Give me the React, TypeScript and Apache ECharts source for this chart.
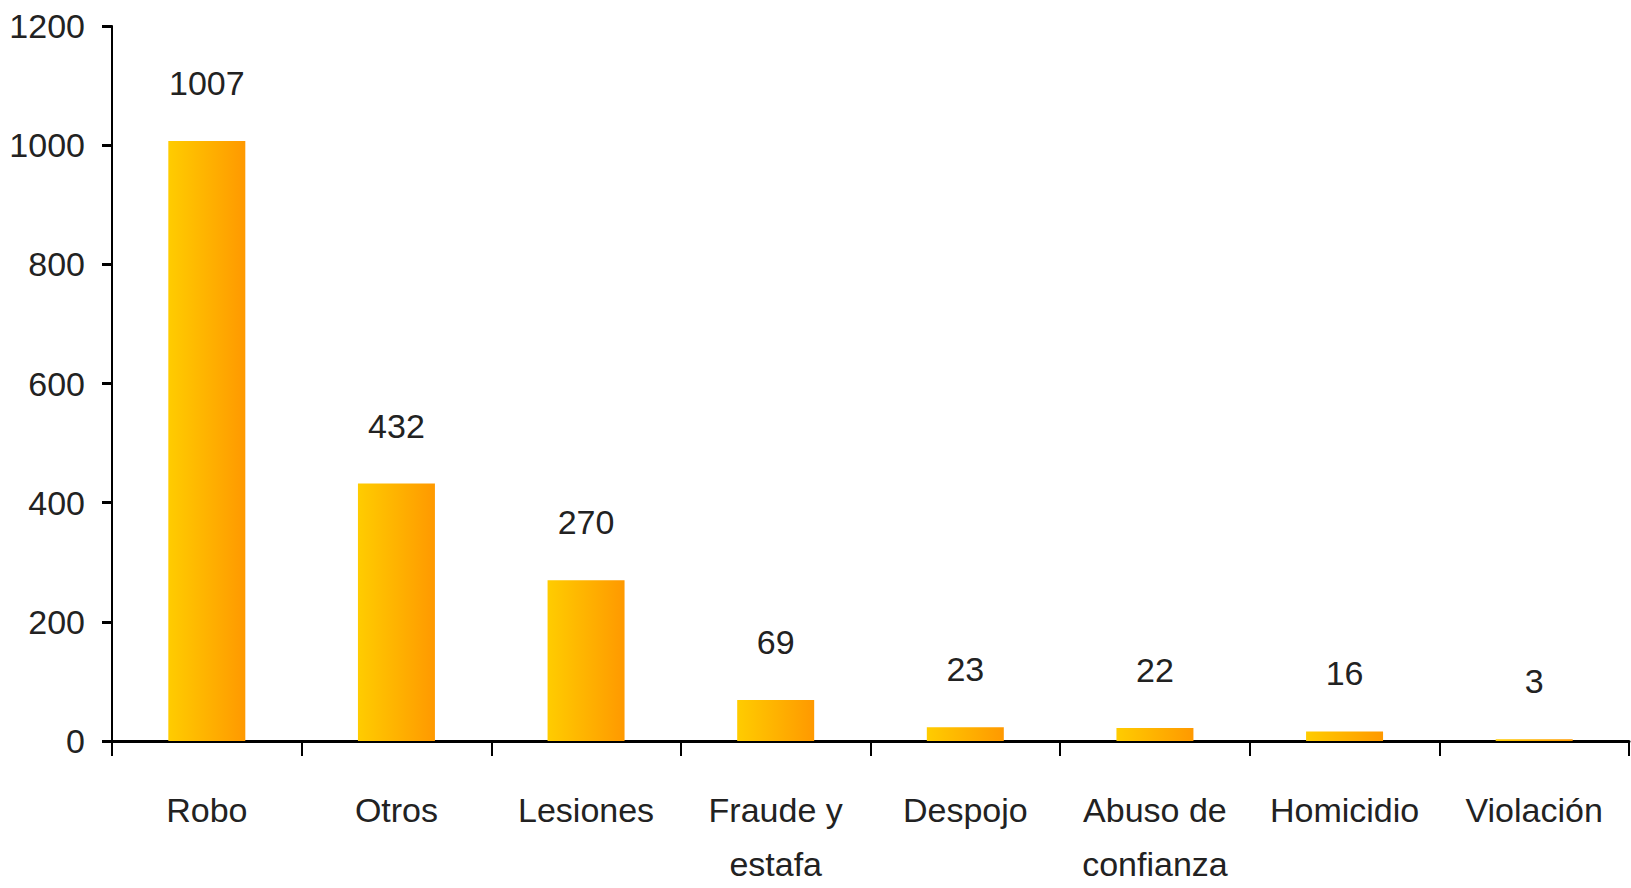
import React, { useEffect, useRef } from "react";
import * as echarts from "echarts";

const categories = ["Robo", "Otros", "Lesiones", "Fraude y\nestafa", "Despojo", "Abuso de\nconfianza", "Homicidio", "Violación"];
const values = [1007, 432, 270, 69, 23, 22, 16, 3];
const yMin = 0;
const yMax = 1200;
const yStep = 200;

const FONT = "'Liberation Sans', Arial, sans-serif";

export default function App() {
  const ref = useRef<HTMLDivElement>(null);
  useEffect(() => {
    if (!ref.current) return;
    const chart = echarts.init(ref.current, null, { renderer: "svg" });
    chart.setOption({
      animation: false,
      backgroundColor: "#ffffff",
      grid: { left: 112, top: 26, right: 2, bottom: 147, containLabel: false, outerBoundsMode: "none" },
      xAxis: {
        type: "category",
        data: categories,
        axisLine: { show: true, lineStyle: { color: "#000", width: 3 } },
        axisTick: { show: true, inside: false, length: 15, lineStyle: { color: "#000", width: 2 } },
        axisLabel: {
          interval: 0,
          margin: 42,
          color: "#222",
          fontFamily: FONT,
          fontSize: 34,
          lineHeight: 54,
        },
        splitLine: { show: false },
      },
      yAxis: {
        type: "value",
        min: yMin,
        max: yMax,
        interval: yStep,
        axisLine: { show: true, lineStyle: { color: "#000", width: 2 } },
        axisTick: { show: true, inside: false, length: 10, lineStyle: { color: "#000", width: 3 } },
        axisLabel: {
          margin: 27,
          color: "#222",
          fontFamily: FONT,
          fontSize: 34,
          formatter: (v: number) => String(v),
        },
        splitLine: { show: false },
      },
      series: [
        {
          type: "bar",
          data: values,
          barWidth: "40.6%",
          itemStyle: {
            color: new echarts.graphic.LinearGradient(0, 0, 1, 0, [
              { offset: 0, color: "#FFCC00" },
              { offset: 1, color: "#FF9900" },
            ]),
          },
          label: {
            show: true,
            position: "top",
            distance: 41,
            color: "#222",
            fontFamily: FONT,
            fontSize: 34,
          },
        },
      ],
    });
    return () => chart.dispose();
  }, []);
  return (
    <div
      ref={ref}
      style={{ position: "fixed", left: 0, top: 0, width: 1631, height: 888, background: "#fff" }}
    />
  );
}
